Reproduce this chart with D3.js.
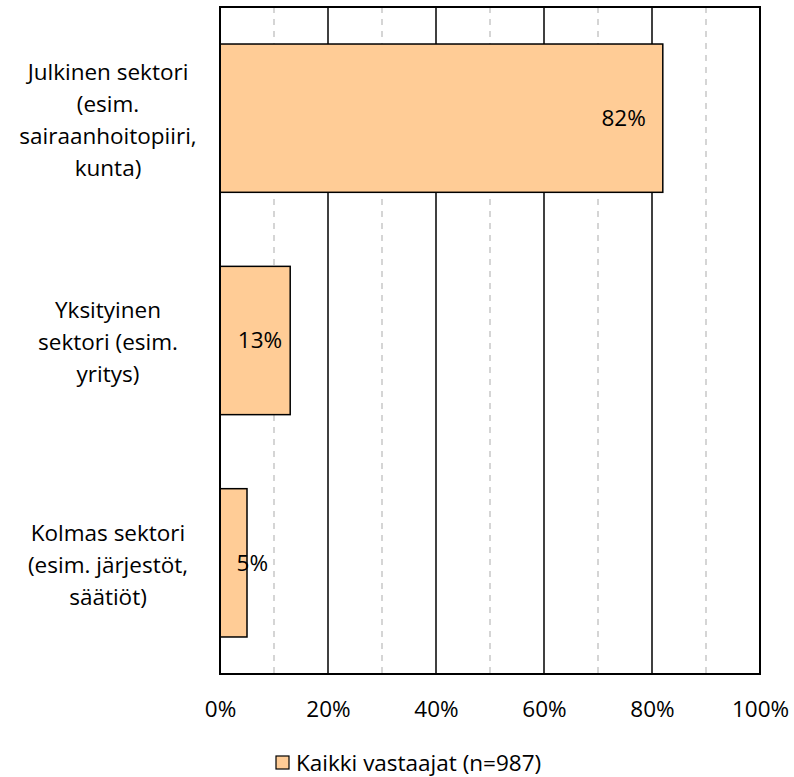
<!DOCTYPE html>
<html><head><meta charset="utf-8">
<script src="https://cdn.jsdelivr.net/npm/d3@7"></script>
<style>body{margin:0;background:#fff}svg{display:block}text{font-family:"Open Sans",sans-serif;fill:#000}</style>
</head><body>
<svg id="c" width="794" height="777"></svg>
<script>
const categories = ["Julkinen sektori (esim. sairaanhoitopiiri, kunta)", "Yksityinen sektori (esim. yritys)", "Kolmas sektori (esim. järjestöt, säätiöt)"];
const categoryLines = [["Julkinen sektori", "(esim.", "sairaanhoitopiiri,", "kunta)"], ["Yksityinen", "sektori (esim.", "yritys)"], ["Kolmas sektori", "(esim. järjestöt,", "säätiöt)"]];
const values = [82, 13, 5];
const valueLabels = ["82%", "13%", "5%"];
const tickValues = [0, 20, 40, 60, 80, 100];
const tickLabels = ["0%", "20%", "40%", "60%", "80%", "100%"];
const minorTicks = [10, 30, 50, 70, 90];
const seriesName = "Kaikki vastaajat (n=987)";

const labelShift = [-17, -8, 21]; // layout: label end offset from bar end

const FS = 22.5;
const svg = d3.select("#c");
const L = 220, R = 760, T = 7, B = 674;
const x = d3.scaleLinear().domain([0, 100]).range([L, R]);
const y = d3.scaleBand().domain(categories).range([T, B]).paddingInner(0.333).paddingOuter(0.1665);

svg.selectAll(".minor").data(minorTicks).enter().append("line")
  .attr("x1", d => x(d)).attr("x2", d => x(d)).attr("y1", T).attr("y2", B)
  .attr("stroke", "#c8c8c8").attr("stroke-width", 1.5).attr("stroke-dasharray", "6,6");
svg.selectAll(".major").data(tickValues.slice(1, -1)).enter().append("line")
  .attr("x1", d => x(d)).attr("x2", d => x(d)).attr("y1", T).attr("y2", B)
  .attr("stroke", "#000").attr("stroke-width", 1.5);

svg.selectAll(".bar").data(values).enter().append("rect")
  .attr("x", x(0)).attr("y", (d, i) => y(categories[i]))
  .attr("width", d => x(d) - x(0)).attr("height", y.bandwidth())
  .attr("fill", "#FFCC96").attr("stroke", "#000").attr("stroke-width", 1.5);

svg.append("rect").attr("x", L).attr("y", T).attr("width", R - L).attr("height", B - T)
  .attr("fill", "none").attr("stroke", "#000").attr("stroke-width", 2);

svg.selectAll(".vl").data(values).enter().append("text")
  .attr("x", (d, i) => x(d) + labelShift[i])
  .attr("y", (d, i) => y(categories[i]) + y.bandwidth() / 2)
  .attr("dy", "0.35em").attr("text-anchor", "end").attr("font-size", FS)
  .text((d, i) => valueLabels[i]);

const xAxis = d3.axisBottom(x).tickValues(tickValues).tickFormat((d, i) => tickLabels[i]).tickSize(0).tickPadding(27);
const ax = svg.append("g").attr("transform", `translate(0,${B})`).call(xAxis);
ax.select(".domain").remove();
ax.selectAll("text").attr("font-size", FS).style("font-family", "'Open Sans', sans-serif").attr("fill", "#000");

categoryLines.forEach((lines, i) => {
  const cy = y(categories[i]) + y.bandwidth() / 2 + 2;
  const n = lines.length;
  lines.forEach((ln, j) => {
    svg.append("text").attr("x", 108).attr("y", cy + (j - (n - 1) / 2) * 32)
      .attr("dy", "0.35em").attr("text-anchor", "middle").attr("font-size", FS).text(ln);
  });
});

svg.append("rect").attr("x", 276).attr("y", 756).attr("width", 13).attr("height", 13)
  .attr("fill", "#FFCC96").attr("stroke", "#000").attr("stroke-width", 1.2);
svg.append("text").attr("x", 296).attr("y", 763).attr("dy", "0.35em").attr("font-size", FS).text(seriesName);
</script>
</body></html>
